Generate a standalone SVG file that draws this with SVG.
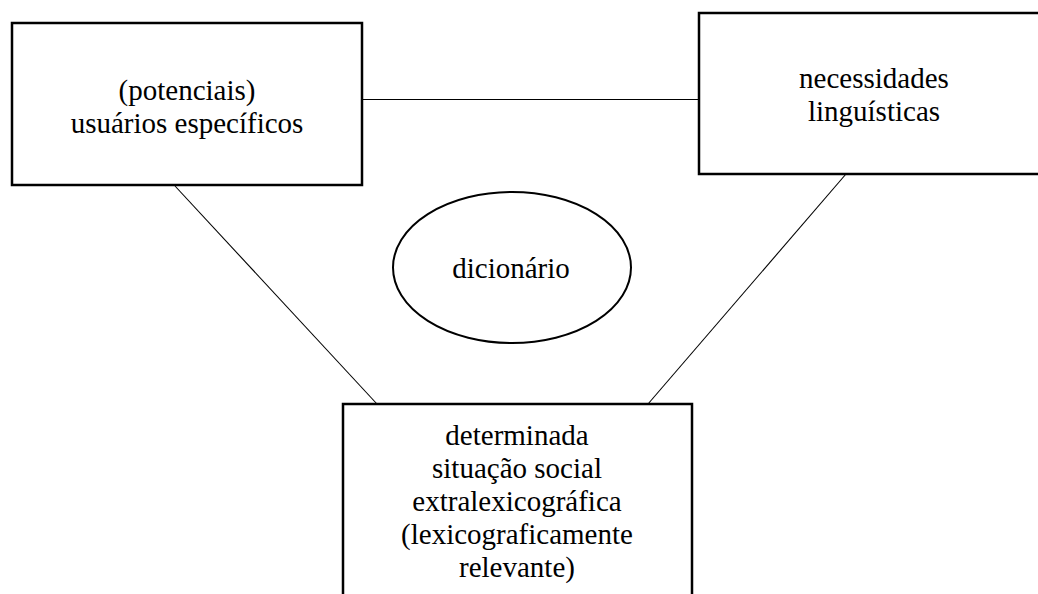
<svg xmlns="http://www.w3.org/2000/svg" width="1038" height="594" viewBox="0 0 1038 594">
<style>
.box{fill:#fff;stroke:#000;stroke-width:2.5}
.ell{fill:#fff;stroke:#000;stroke-width:2}
.con{stroke:#000;stroke-width:1.1;fill:none}
.t{font-size:29px;fill:#000;text-anchor:middle}
</style>
<rect width="1038" height="594" fill="#fff"/>
<g id="connectors">
<line class="con" x1="362" y1="99.5" x2="699" y2="99.5"/>
<line class="con" x1="175" y1="186" x2="377" y2="404"/>
<line class="con" x1="846" y1="174" x2="648" y2="404"/>
</g>
<g font-family="Liberation Serif, DejaVu Serif, serif">
<g id="users">
<rect class="box" x="12" y="23" width="350" height="162"/>
<text class="t" x="187" y="99.5">(potenciais)</text>
<text class="t" x="187" y="132.5">usuários específicos</text>
</g>
<g id="needs">
<rect class="box" x="699" y="13" width="350" height="161"/>
<text class="t" x="874" y="88">necessidades</text>
<text class="t" x="874" y="121">linguísticas</text>
</g>
<g id="dictionary">
<ellipse class="ell" cx="512" cy="267.5" rx="119" ry="75.5"/>
<text class="t" x="511" y="278">dicionário</text>
</g>
<g id="situation">
<rect class="box" x="343" y="404" width="349" height="200"/>
<text class="t" x="517" y="445">determinada</text>
<text class="t" x="517" y="478">situação social</text>
<text class="t" x="517" y="511">extralexicográfica</text>
<text class="t" x="517" y="544">(lexicograficamente</text>
<text class="t" x="517" y="577">relevante)</text>
</g>
</g>
</svg>
